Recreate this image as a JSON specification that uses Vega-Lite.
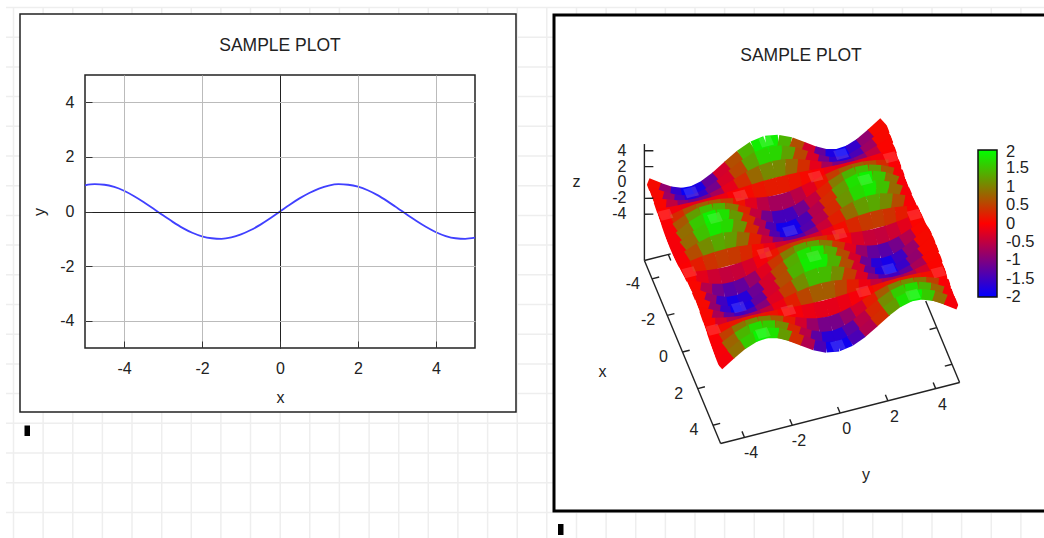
{
"$schema":"https://vega.github.io/schema/vega-lite/v6.json",
"width":390,"height":273,
"autosize":{"type":"none"},
"padding":{"left":85,"top":75,"right":569,"bottom":190},
"background":"white",
"config":{"view":{"stroke":null},"axis":{"labelFont":"Liberation Sans","titleFont":"Liberation Sans"}},
"datasets":{"s":[
{"x":-4.75,"y":-5,"z":0.57},{"x":-4.75,"y":-4.5,"z":-0.42},{"x":-4.75,"y":-4,"z":-1.31},{"x":-4.75,"y":-3.5,"z":-1.87},{"x":-4.75,"y":-3,"z":-1.98},{"x":-4.75,"y":-2.5,"z":-1.6},{"x":-4.75,"y":-2,"z":-0.83},{"x":-4.75,"y":-1.5,"z":0.14},{"x":-4.75,"y":-1,"z":1.08},{"x":-4.75,"y":-0.5,"z":1.75},{"x":-4.75,"y":0,"z":2},{"x":-4.75,"y":0.5,"z":1.75},{"x":-4.75,"y":1,"z":1.08},{"x":-4.75,"y":1.5,"z":0.14},{"x":-4.75,"y":2,"z":-0.83},{"x":-4.75,"y":2.5,"z":-1.6},{"x":-4.75,"y":3,"z":-1.98},{"x":-4.75,"y":3.5,"z":-1.87},{"x":-4.75,"y":4,"z":-1.31},{"x":-4.75,"y":4.5,"z":-0.42},{"x":-4.75,"y":5,"z":0.57},
{"x":-4.25,"y":-5,"z":0.51},{"x":-4.25,"y":-4.5,"z":-0.38},{"x":-4.25,"y":-4,"z":-1.17},{"x":-4.25,"y":-3.5,"z":-1.68},{"x":-4.25,"y":-3,"z":-1.77},{"x":-4.25,"y":-2.5,"z":-1.43},{"x":-4.25,"y":-2,"z":-0.74},{"x":-4.25,"y":-1.5,"z":0.13},{"x":-4.25,"y":-1,"z":0.97},{"x":-4.25,"y":-0.5,"z":1.57},{"x":-4.25,"y":0,"z":1.79},{"x":-4.25,"y":0.5,"z":1.57},{"x":-4.25,"y":1,"z":0.97},{"x":-4.25,"y":1.5,"z":0.13},{"x":-4.25,"y":2,"z":-0.74},{"x":-4.25,"y":2.5,"z":-1.43},{"x":-4.25,"y":3,"z":-1.77},{"x":-4.25,"y":3.5,"z":-1.68},{"x":-4.25,"y":4,"z":-1.17},{"x":-4.25,"y":4.5,"z":-0.38},{"x":-4.25,"y":5,"z":0.51},
{"x":-3.75,"y":-5,"z":0.32},{"x":-3.75,"y":-4.5,"z":-0.24},{"x":-3.75,"y":-4,"z":-0.75},{"x":-3.75,"y":-3.5,"z":-1.07},{"x":-3.75,"y":-3,"z":-1.13},{"x":-3.75,"y":-2.5,"z":-0.92},{"x":-3.75,"y":-2,"z":-0.48},{"x":-3.75,"y":-1.5,"z":0.08},{"x":-3.75,"y":-1,"z":0.62},{"x":-3.75,"y":-0.5,"z":1},{"x":-3.75,"y":0,"z":1.14},{"x":-3.75,"y":0.5,"z":1},{"x":-3.75,"y":1,"z":0.62},{"x":-3.75,"y":1.5,"z":0.08},{"x":-3.75,"y":2,"z":-0.48},{"x":-3.75,"y":2.5,"z":-0.92},{"x":-3.75,"y":3,"z":-1.13},{"x":-3.75,"y":3.5,"z":-1.07},{"x":-3.75,"y":4,"z":-0.75},{"x":-3.75,"y":4.5,"z":-0.24},{"x":-3.75,"y":5,"z":0.32},
{"x":-3.25,"y":-5,"z":0.06},{"x":-3.25,"y":-4.5,"z":-0.05},{"x":-3.25,"y":-4,"z":-0.14},{"x":-3.25,"y":-3.5,"z":-0.2},{"x":-3.25,"y":-3,"z":-0.21},{"x":-3.25,"y":-2.5,"z":-0.17},{"x":-3.25,"y":-2,"z":-0.09},{"x":-3.25,"y":-1.5,"z":0.02},{"x":-3.25,"y":-1,"z":0.12},{"x":-3.25,"y":-0.5,"z":0.19},{"x":-3.25,"y":0,"z":0.22},{"x":-3.25,"y":0.5,"z":0.19},{"x":-3.25,"y":1,"z":0.12},{"x":-3.25,"y":1.5,"z":0.02},{"x":-3.25,"y":2,"z":-0.09},{"x":-3.25,"y":2.5,"z":-0.17},{"x":-3.25,"y":3,"z":-0.21},{"x":-3.25,"y":3.5,"z":-0.2},{"x":-3.25,"y":4,"z":-0.14},{"x":-3.25,"y":4.5,"z":-0.05},{"x":-3.25,"y":5,"z":0.06},
{"x":-2.75,"y":-5,"z":-0.22},{"x":-2.75,"y":-4.5,"z":0.16},{"x":-2.75,"y":-4,"z":0.5},{"x":-2.75,"y":-3.5,"z":0.72},{"x":-2.75,"y":-3,"z":0.76},{"x":-2.75,"y":-2.5,"z":0.61},{"x":-2.75,"y":-2,"z":0.32},{"x":-2.75,"y":-1.5,"z":-0.05},{"x":-2.75,"y":-1,"z":-0.41},{"x":-2.75,"y":-0.5,"z":-0.67},{"x":-2.75,"y":0,"z":-0.76},{"x":-2.75,"y":0.5,"z":-0.67},{"x":-2.75,"y":1,"z":-0.41},{"x":-2.75,"y":1.5,"z":-0.05},{"x":-2.75,"y":2,"z":0.32},{"x":-2.75,"y":2.5,"z":0.61},{"x":-2.75,"y":3,"z":0.76},{"x":-2.75,"y":3.5,"z":0.72},{"x":-2.75,"y":4,"z":0.5},{"x":-2.75,"y":4.5,"z":0.16},{"x":-2.75,"y":5,"z":-0.22},
{"x":-2.25,"y":-5,"z":-0.44},{"x":-2.25,"y":-4.5,"z":0.33},{"x":-2.25,"y":-4,"z":1.02},{"x":-2.25,"y":-3.5,"z":1.46},{"x":-2.25,"y":-3,"z":1.54},{"x":-2.25,"y":-2.5,"z":1.25},{"x":-2.25,"y":-2,"z":0.65},{"x":-2.25,"y":-1.5,"z":-0.11},{"x":-2.25,"y":-1,"z":-0.84},{"x":-2.25,"y":-0.5,"z":-1.37},{"x":-2.25,"y":0,"z":-1.56},{"x":-2.25,"y":0.5,"z":-1.37},{"x":-2.25,"y":1,"z":-0.84},{"x":-2.25,"y":1.5,"z":-0.11},{"x":-2.25,"y":2,"z":0.65},{"x":-2.25,"y":2.5,"z":1.25},{"x":-2.25,"y":3,"z":1.54},{"x":-2.25,"y":3.5,"z":1.46},{"x":-2.25,"y":4,"z":1.02},{"x":-2.25,"y":4.5,"z":0.33},{"x":-2.25,"y":5,"z":-0.44},
{"x":-1.75,"y":-5,"z":-0.56},{"x":-1.75,"y":-4.5,"z":0.42},{"x":-1.75,"y":-4,"z":1.29},{"x":-1.75,"y":-3.5,"z":1.84},{"x":-1.75,"y":-3,"z":1.95},{"x":-1.75,"y":-2.5,"z":1.58},{"x":-1.75,"y":-2,"z":0.82},{"x":-1.75,"y":-1.5,"z":-0.14},{"x":-1.75,"y":-1,"z":-1.06},{"x":-1.75,"y":-0.5,"z":-1.73},{"x":-1.75,"y":0,"z":-1.97},{"x":-1.75,"y":0.5,"z":-1.73},{"x":-1.75,"y":1,"z":-1.06},{"x":-1.75,"y":1.5,"z":-0.14},{"x":-1.75,"y":2,"z":0.82},{"x":-1.75,"y":2.5,"z":1.58},{"x":-1.75,"y":3,"z":1.95},{"x":-1.75,"y":3.5,"z":1.84},{"x":-1.75,"y":4,"z":1.29},{"x":-1.75,"y":4.5,"z":0.42},{"x":-1.75,"y":5,"z":-0.56},
{"x":-1.25,"y":-5,"z":-0.54},{"x":-1.25,"y":-4.5,"z":0.4},{"x":-1.25,"y":-4,"z":1.24},{"x":-1.25,"y":-3.5,"z":1.78},{"x":-1.25,"y":-3,"z":1.88},{"x":-1.25,"y":-2.5,"z":1.52},{"x":-1.25,"y":-2,"z":0.79},{"x":-1.25,"y":-1.5,"z":-0.13},{"x":-1.25,"y":-1,"z":-1.02},{"x":-1.25,"y":-0.5,"z":-1.67},{"x":-1.25,"y":0,"z":-1.9},{"x":-1.25,"y":0.5,"z":-1.67},{"x":-1.25,"y":1,"z":-1.02},{"x":-1.25,"y":1.5,"z":-0.13},{"x":-1.25,"y":2,"z":0.79},{"x":-1.25,"y":2.5,"z":1.52},{"x":-1.25,"y":3,"z":1.88},{"x":-1.25,"y":3.5,"z":1.78},{"x":-1.25,"y":4,"z":1.24},{"x":-1.25,"y":4.5,"z":0.4},{"x":-1.25,"y":5,"z":-0.54},
{"x":-0.75,"y":-5,"z":-0.39},{"x":-0.75,"y":-4.5,"z":0.29},{"x":-0.75,"y":-4,"z":0.89},{"x":-0.75,"y":-3.5,"z":1.28},{"x":-0.75,"y":-3,"z":1.35},{"x":-0.75,"y":-2.5,"z":1.09},{"x":-0.75,"y":-2,"z":0.57},{"x":-0.75,"y":-1.5,"z":-0.1},{"x":-0.75,"y":-1,"z":-0.74},{"x":-0.75,"y":-0.5,"z":-1.2},{"x":-0.75,"y":0,"z":-1.36},{"x":-0.75,"y":0.5,"z":-1.2},{"x":-0.75,"y":1,"z":-0.74},{"x":-0.75,"y":1.5,"z":-0.1},{"x":-0.75,"y":2,"z":0.57},{"x":-0.75,"y":2.5,"z":1.09},{"x":-0.75,"y":3,"z":1.35},{"x":-0.75,"y":3.5,"z":1.28},{"x":-0.75,"y":4,"z":0.89},{"x":-0.75,"y":4.5,"z":0.29},{"x":-0.75,"y":5,"z":-0.39},
{"x":-0.25,"y":-5,"z":-0.14},{"x":-0.25,"y":-4.5,"z":0.1},{"x":-0.25,"y":-4,"z":0.32},{"x":-0.25,"y":-3.5,"z":0.46},{"x":-0.25,"y":-3,"z":0.49},{"x":-0.25,"y":-2.5,"z":0.4},{"x":-0.25,"y":-2,"z":0.21},{"x":-0.25,"y":-1.5,"z":-0.04},{"x":-0.25,"y":-1,"z":-0.27},{"x":-0.25,"y":-0.5,"z":-0.43},{"x":-0.25,"y":0,"z":-0.49},{"x":-0.25,"y":0.5,"z":-0.43},{"x":-0.25,"y":1,"z":-0.27},{"x":-0.25,"y":1.5,"z":-0.04},{"x":-0.25,"y":2,"z":0.21},{"x":-0.25,"y":2.5,"z":0.4},{"x":-0.25,"y":3,"z":0.49},{"x":-0.25,"y":3.5,"z":0.46},{"x":-0.25,"y":4,"z":0.32},{"x":-0.25,"y":4.5,"z":0.1},{"x":-0.25,"y":5,"z":-0.14},
{"x":0.25,"y":-5,"z":0.14},{"x":0.25,"y":-4.5,"z":-0.1},{"x":0.25,"y":-4,"z":-0.32},{"x":0.25,"y":-3.5,"z":-0.46},{"x":0.25,"y":-3,"z":-0.49},{"x":0.25,"y":-2.5,"z":-0.4},{"x":0.25,"y":-2,"z":-0.21},{"x":0.25,"y":-1.5,"z":0.04},{"x":0.25,"y":-1,"z":0.27},{"x":0.25,"y":-0.5,"z":0.43},{"x":0.25,"y":0,"z":0.49},{"x":0.25,"y":0.5,"z":0.43},{"x":0.25,"y":1,"z":0.27},{"x":0.25,"y":1.5,"z":0.04},{"x":0.25,"y":2,"z":-0.21},{"x":0.25,"y":2.5,"z":-0.4},{"x":0.25,"y":3,"z":-0.49},{"x":0.25,"y":3.5,"z":-0.46},{"x":0.25,"y":4,"z":-0.32},{"x":0.25,"y":4.5,"z":-0.1},{"x":0.25,"y":5,"z":0.14},
{"x":0.75,"y":-5,"z":0.39},{"x":0.75,"y":-4.5,"z":-0.29},{"x":0.75,"y":-4,"z":-0.89},{"x":0.75,"y":-3.5,"z":-1.28},{"x":0.75,"y":-3,"z":-1.35},{"x":0.75,"y":-2.5,"z":-1.09},{"x":0.75,"y":-2,"z":-0.57},{"x":0.75,"y":-1.5,"z":0.1},{"x":0.75,"y":-1,"z":0.74},{"x":0.75,"y":-0.5,"z":1.2},{"x":0.75,"y":0,"z":1.36},{"x":0.75,"y":0.5,"z":1.2},{"x":0.75,"y":1,"z":0.74},{"x":0.75,"y":1.5,"z":0.1},{"x":0.75,"y":2,"z":-0.57},{"x":0.75,"y":2.5,"z":-1.09},{"x":0.75,"y":3,"z":-1.35},{"x":0.75,"y":3.5,"z":-1.28},{"x":0.75,"y":4,"z":-0.89},{"x":0.75,"y":4.5,"z":-0.29},{"x":0.75,"y":5,"z":0.39},
{"x":1.25,"y":-5,"z":0.54},{"x":1.25,"y":-4.5,"z":-0.4},{"x":1.25,"y":-4,"z":-1.24},{"x":1.25,"y":-3.5,"z":-1.78},{"x":1.25,"y":-3,"z":-1.88},{"x":1.25,"y":-2.5,"z":-1.52},{"x":1.25,"y":-2,"z":-0.79},{"x":1.25,"y":-1.5,"z":0.13},{"x":1.25,"y":-1,"z":1.02},{"x":1.25,"y":-0.5,"z":1.67},{"x":1.25,"y":0,"z":1.9},{"x":1.25,"y":0.5,"z":1.67},{"x":1.25,"y":1,"z":1.02},{"x":1.25,"y":1.5,"z":0.13},{"x":1.25,"y":2,"z":-0.79},{"x":1.25,"y":2.5,"z":-1.52},{"x":1.25,"y":3,"z":-1.88},{"x":1.25,"y":3.5,"z":-1.78},{"x":1.25,"y":4,"z":-1.24},{"x":1.25,"y":4.5,"z":-0.4},{"x":1.25,"y":5,"z":0.54},
{"x":1.75,"y":-5,"z":0.56},{"x":1.75,"y":-4.5,"z":-0.42},{"x":1.75,"y":-4,"z":-1.29},{"x":1.75,"y":-3.5,"z":-1.84},{"x":1.75,"y":-3,"z":-1.95},{"x":1.75,"y":-2.5,"z":-1.58},{"x":1.75,"y":-2,"z":-0.82},{"x":1.75,"y":-1.5,"z":0.14},{"x":1.75,"y":-1,"z":1.06},{"x":1.75,"y":-0.5,"z":1.73},{"x":1.75,"y":0,"z":1.97},{"x":1.75,"y":0.5,"z":1.73},{"x":1.75,"y":1,"z":1.06},{"x":1.75,"y":1.5,"z":0.14},{"x":1.75,"y":2,"z":-0.82},{"x":1.75,"y":2.5,"z":-1.58},{"x":1.75,"y":3,"z":-1.95},{"x":1.75,"y":3.5,"z":-1.84},{"x":1.75,"y":4,"z":-1.29},{"x":1.75,"y":4.5,"z":-0.42},{"x":1.75,"y":5,"z":0.56},
{"x":2.25,"y":-5,"z":0.44},{"x":2.25,"y":-4.5,"z":-0.33},{"x":2.25,"y":-4,"z":-1.02},{"x":2.25,"y":-3.5,"z":-1.46},{"x":2.25,"y":-3,"z":-1.54},{"x":2.25,"y":-2.5,"z":-1.25},{"x":2.25,"y":-2,"z":-0.65},{"x":2.25,"y":-1.5,"z":0.11},{"x":2.25,"y":-1,"z":0.84},{"x":2.25,"y":-0.5,"z":1.37},{"x":2.25,"y":0,"z":1.56},{"x":2.25,"y":0.5,"z":1.37},{"x":2.25,"y":1,"z":0.84},{"x":2.25,"y":1.5,"z":0.11},{"x":2.25,"y":2,"z":-0.65},{"x":2.25,"y":2.5,"z":-1.25},{"x":2.25,"y":3,"z":-1.54},{"x":2.25,"y":3.5,"z":-1.46},{"x":2.25,"y":4,"z":-1.02},{"x":2.25,"y":4.5,"z":-0.33},{"x":2.25,"y":5,"z":0.44},
{"x":2.75,"y":-5,"z":0.22},{"x":2.75,"y":-4.5,"z":-0.16},{"x":2.75,"y":-4,"z":-0.5},{"x":2.75,"y":-3.5,"z":-0.72},{"x":2.75,"y":-3,"z":-0.76},{"x":2.75,"y":-2.5,"z":-0.61},{"x":2.75,"y":-2,"z":-0.32},{"x":2.75,"y":-1.5,"z":0.05},{"x":2.75,"y":-1,"z":0.41},{"x":2.75,"y":-0.5,"z":0.67},{"x":2.75,"y":0,"z":0.76},{"x":2.75,"y":0.5,"z":0.67},{"x":2.75,"y":1,"z":0.41},{"x":2.75,"y":1.5,"z":0.05},{"x":2.75,"y":2,"z":-0.32},{"x":2.75,"y":2.5,"z":-0.61},{"x":2.75,"y":3,"z":-0.76},{"x":2.75,"y":3.5,"z":-0.72},{"x":2.75,"y":4,"z":-0.5},{"x":2.75,"y":4.5,"z":-0.16},{"x":2.75,"y":5,"z":0.22},
{"x":3.25,"y":-5,"z":-0.06},{"x":3.25,"y":-4.5,"z":0.05},{"x":3.25,"y":-4,"z":0.14},{"x":3.25,"y":-3.5,"z":0.2},{"x":3.25,"y":-3,"z":0.21},{"x":3.25,"y":-2.5,"z":0.17},{"x":3.25,"y":-2,"z":0.09},{"x":3.25,"y":-1.5,"z":-0.02},{"x":3.25,"y":-1,"z":-0.12},{"x":3.25,"y":-0.5,"z":-0.19},{"x":3.25,"y":0,"z":-0.22},{"x":3.25,"y":0.5,"z":-0.19},{"x":3.25,"y":1,"z":-0.12},{"x":3.25,"y":1.5,"z":-0.02},{"x":3.25,"y":2,"z":0.09},{"x":3.25,"y":2.5,"z":0.17},{"x":3.25,"y":3,"z":0.21},{"x":3.25,"y":3.5,"z":0.2},{"x":3.25,"y":4,"z":0.14},{"x":3.25,"y":4.5,"z":0.05},{"x":3.25,"y":5,"z":-0.06},
{"x":3.75,"y":-5,"z":-0.32},{"x":3.75,"y":-4.5,"z":0.24},{"x":3.75,"y":-4,"z":0.75},{"x":3.75,"y":-3.5,"z":1.07},{"x":3.75,"y":-3,"z":1.13},{"x":3.75,"y":-2.5,"z":0.92},{"x":3.75,"y":-2,"z":0.48},{"x":3.75,"y":-1.5,"z":-0.08},{"x":3.75,"y":-1,"z":-0.62},{"x":3.75,"y":-0.5,"z":-1},{"x":3.75,"y":0,"z":-1.14},{"x":3.75,"y":0.5,"z":-1},{"x":3.75,"y":1,"z":-0.62},{"x":3.75,"y":1.5,"z":-0.08},{"x":3.75,"y":2,"z":0.48},{"x":3.75,"y":2.5,"z":0.92},{"x":3.75,"y":3,"z":1.13},{"x":3.75,"y":3.5,"z":1.07},{"x":3.75,"y":4,"z":0.75},{"x":3.75,"y":4.5,"z":0.24},{"x":3.75,"y":5,"z":-0.32},
{"x":4.25,"y":-5,"z":-0.51},{"x":4.25,"y":-4.5,"z":0.38},{"x":4.25,"y":-4,"z":1.17},{"x":4.25,"y":-3.5,"z":1.68},{"x":4.25,"y":-3,"z":1.77},{"x":4.25,"y":-2.5,"z":1.43},{"x":4.25,"y":-2,"z":0.74},{"x":4.25,"y":-1.5,"z":-0.13},{"x":4.25,"y":-1,"z":-0.97},{"x":4.25,"y":-0.5,"z":-1.57},{"x":4.25,"y":0,"z":-1.79},{"x":4.25,"y":0.5,"z":-1.57},{"x":4.25,"y":1,"z":-0.97},{"x":4.25,"y":1.5,"z":-0.13},{"x":4.25,"y":2,"z":0.74},{"x":4.25,"y":2.5,"z":1.43},{"x":4.25,"y":3,"z":1.77},{"x":4.25,"y":3.5,"z":1.68},{"x":4.25,"y":4,"z":1.17},{"x":4.25,"y":4.5,"z":0.38},{"x":4.25,"y":5,"z":-0.51},
{"x":4.75,"y":-5,"z":-0.57},{"x":4.75,"y":-4.5,"z":0.42},{"x":4.75,"y":-4,"z":1.31},{"x":4.75,"y":-3.5,"z":1.87},{"x":4.75,"y":-3,"z":1.98},{"x":4.75,"y":-2.5,"z":1.6},{"x":4.75,"y":-2,"z":0.83},{"x":4.75,"y":-1.5,"z":-0.14},{"x":4.75,"y":-1,"z":-1.08},{"x":4.75,"y":-0.5,"z":-1.75},{"x":4.75,"y":0,"z":-2},{"x":4.75,"y":0.5,"z":-1.75},{"x":4.75,"y":1,"z":-1.08},{"x":4.75,"y":1.5,"z":-0.14},{"x":4.75,"y":2,"z":0.83},{"x":4.75,"y":2.5,"z":1.6},{"x":4.75,"y":3,"z":1.98},{"x":4.75,"y":3.5,"z":1.87},{"x":4.75,"y":4,"z":1.31},{"x":4.75,"y":4.5,"z":0.42},{"x":4.75,"y":5,"z":-0.57}
]},
"resolve":{"scale":{"x":"independent","y":"independent"},"axis":{"x":"independent","y":"independent"}},
"layer":[
{"data":{"values":[{"a":13.5},{"a":43.1},{"a":72.8},{"a":102.4},{"a":132},{"a":161.7},{"a":191.3},{"a":220.9},{"a":250.5},{"a":280.2},{"a":309.8},{"a":339.4},{"a":369.1},{"a":398.7},{"a":428.3},{"a":457.9},{"a":487.6},{"a":517.2},{"a":546.8},{"a":576.5},{"a":606.1},{"a":635.7},{"a":665.4},{"a":695},{"a":724.6},{"a":754.3},{"a":783.9},{"a":813.5},{"a":843.1},{"a":872.8},{"a":902.4},{"a":932},{"a":961.6},{"a":991.3},{"a":1020.9}]},
"mark":{"type":"rule","color":"#eeeeee","strokeWidth":1.5},
"encoding":{"x":{"field":"a","type":"quantitative","axis":null,"scale":{"domain":[0,1044],"range":[-85,959]}},"y":{"datum":8,"type":"quantitative","axis":null,"scale":{"domain":[0,538],"range":[-75,463]}},"y2":{"datum":538}}},
{"data":{"values":[{"a":7.5},{"a":37.2},{"a":66.9},{"a":96.6},{"a":126.3},{"a":156},{"a":185.7},{"a":215.4},{"a":245.1},{"a":274.8},{"a":304.5},{"a":334.2},{"a":363.9},{"a":393.6},{"a":423.3},{"a":453},{"a":482.7},{"a":512.4}]},
"mark":{"type":"rule","color":"#eeeeee","strokeWidth":1.5},
"encoding":{"y":{"field":"a","type":"quantitative","axis":null,"scale":{"domain":[0,538],"range":[-75,463]}},"x":{"datum":6,"type":"quantitative","axis":null,"scale":{"domain":[0,1044],"range":[-85,959]}},"x2":{"datum":1044}}},
{"data":{"values":[{"l":20,"t":14,"r":516,"b":412},{"l":85,"t":75,"r":475,"b":348}]},
"mark":{"type":"rect","fill":"white","stroke":"#222","strokeWidth":1.5},
"encoding":{"x":{"field":"l","type":"quantitative","axis":null,"scale":{"domain":[0,1044],"range":[-85,959]}},"x2":{"field":"r"},"y":{"field":"t","type":"quantitative","axis":null,"scale":{"domain":[0,538],"range":[-75,463]}},"y2":{"field":"b"}}},
{"data":{"values":[{"l":554,"t":15,"r":1060,"b":511}]},
"mark":{"type":"rect","fill":"white","stroke":"#000","strokeWidth":3},
"encoding":{"x":{"field":"l","type":"quantitative","axis":null,"scale":{"domain":[0,1044],"range":[-85,959]}},"x2":{"field":"r"},"y":{"field":"t","type":"quantitative","axis":null,"scale":{"domain":[0,538],"range":[-75,463]}},"y2":{"field":"b"}}},
{"data":{"values":[{"l":24.5,"t":425.5,"r":30,"b":436},{"l":558,"t":524,"r":563.5,"b":535}]},
"mark":{"type":"rect","fill":"#000"},
"encoding":{"x":{"field":"l","type":"quantitative","axis":null,"scale":{"domain":[0,1044],"range":[-85,959]}},"x2":{"field":"r"},"y":{"field":"t","type":"quantitative","axis":null,"scale":{"domain":[0,538],"range":[-75,463]}},"y2":{"field":"b"}}},
{"data":{"values":[{"l":801,"t":56,"k":"SAMPLE PLOT"},{"l":280,"t":46,"k":"SAMPLE PLOT"}]},
"mark":{"type":"text","font":"Liberation Sans","fontSize":17.5,"color":"#222","align":"center","baseline":"middle"},
"encoding":{"x":{"field":"l","type":"quantitative","axis":null,"scale":{"domain":[0,1044],"range":[-85,959]}},"y":{"field":"t","type":"quantitative","axis":null,"scale":{"domain":[0,538],"range":[-75,463]}},"text":{"field":"k"}}},
{"data":{"values":[{"l":1006,"t":152,"k":"2"},{"l":1006,"t":297,"k":"-2"}]},
"mark":{"type":"text","font":"Liberation Sans","fontSize":16.5,"color":"#222","align":"left","baseline":"middle"},
"encoding":{"x":{"field":"l","type":"quantitative","axis":null,"scale":{"domain":[0,1044],"range":[-85,959]}},"y":{"field":"t","type":"quantitative","axis":null,"scale":{"domain":[0,538],"range":[-75,463]}},"text":{"field":"k"}}},
{"data":{"values":[{"x":-5,"y":0.96},{"x":-4.75,"y":1},{"x":-4.5,"y":0.98},{"x":-4.25,"y":0.9},{"x":-4,"y":0.76},{"x":-3.75,"y":0.57},{"x":-3.5,"y":0.35},{"x":-3.25,"y":0.11},{"x":-3,"y":-0.14},{"x":-2.75,"y":-0.38},{"x":-2.5,"y":-0.6},{"x":-2.25,"y":-0.78},{"x":-2,"y":-0.91},{"x":-1.75,"y":-0.98},{"x":-1.5,"y":-1},{"x":-1.25,"y":-0.95},{"x":-1,"y":-0.84},{"x":-0.75,"y":-0.68},{"x":-0.5,"y":-0.48},{"x":-0.25,"y":-0.25},{"x":0,"y":0},{"x":0.25,"y":0.25},{"x":0.5,"y":0.48},{"x":0.75,"y":0.68},{"x":1,"y":0.84},{"x":1.25,"y":0.95},{"x":1.5,"y":1},{"x":1.75,"y":0.98},{"x":2,"y":0.91},{"x":2.25,"y":0.78},{"x":2.5,"y":0.6},{"x":2.75,"y":0.38},{"x":3,"y":0.14},{"x":3.25,"y":-0.11},{"x":3.5,"y":-0.35},{"x":3.75,"y":-0.57},{"x":4,"y":-0.76},{"x":4.25,"y":-0.9},{"x":4.5,"y":-0.98},{"x":4.75,"y":-1},{"x":5,"y":-0.96}]},
"mark":{"type":"line","color":"#4040ff","strokeWidth":1.8,"interpolate":"monotone"},
"encoding":{
"x":{"field":"x","type":"quantitative","scale":{"domain":[-5,5],"nice":false,"zero":false},"axis":{"title":"x","values":[-4,-2,0,2,4],"labelExpr":"''+datum.value","zindex":1,"domain":false,"tickSize":-7,"tickColor":"#333","labelPadding":19,"labelFontSize":16,"labelColor":"#222","labelAngle":0,"titleFontSize":16,"titleFontWeight":"normal","titleColor":"#222","titlePadding":13,"grid":true,"gridColor":{"condition":{"test":"datum.value===0","value":"#222"},"value":"#bbbbbb"},"gridWidth":1}},
"y":{"field":"y","type":"quantitative","scale":{"domain":[-5,5],"nice":false,"zero":false},"axis":{"title":"y","values":[-4,-2,0,2,4],"labelExpr":"''+datum.value","zindex":1,"domain":false,"tickSize":-7,"tickColor":"#333","labelPadding":18,"labelFontSize":16,"labelColor":"#222","titleFontSize":16,"titleFontWeight":"normal","titleColor":"#222","titlePadding":12,"grid":true,"gridColor":{"condition":{"test":"datum.value===0","value":"#222"},"value":"#bbbbbb"},"gridWidth":1}}}},
{"data":{"values":[{"x":-4,"y":-5.8,"z":-9.84,"t":"-4"},{"x":-2,"y":-5.8,"z":-9.84,"t":"-2"},{"x":0,"y":-5.8,"z":-9.84,"t":"0"},{"x":2,"y":-5.8,"z":-9.84,"t":"2"},{"x":4,"y":-5.8,"z":-9.84,"t":"4"},{"x":5.87,"y":-4,"z":-9.84,"t":"-4"},{"x":5.87,"y":-2,"z":-9.84,"t":"-2"},{"x":5.87,"y":0,"z":-9.84,"t":"0"},{"x":5.87,"y":2,"z":-9.84,"t":"2"},{"x":5.87,"y":4,"z":-9.84,"t":"4"},{"x":0,"y":-8.35,"z":-9.84,"t":"x"},{"x":8.4,"y":0,"z":-9.84,"t":"y"},{"x":-5.857,"y":-7.57,"z":0,"t":"z"}]},
"transform":[{"calculate":"7.62*datum.x+23.9*datum.y","as":"sx"},{"calculate":"18.3*datum.x-6.1*datum.y-7.93*datum.z","as":"sy"}],
"mark":{"type":"text","font":"Liberation Sans","fontSize":16,"color":"#222","align":"center","baseline":"middle"},
"encoding":{"x":{"field":"sx","type":"quantitative","axis":null,"scale":{"domain":[-802,242],"range":[-85,959]}},"y":{"field":"sy","type":"quantitative","axis":null,"scale":{"domain":[-243.5,294.5],"range":[-75,463]}},"text":{"field":"t"}}},
{"data":{"values":[{"x":-5.227,"y":-5.68,"z":-4,"t":"-4"},{"x":-5.227,"y":-5.68,"z":-2,"t":"-2"},{"x":-5.227,"y":-5.68,"z":0,"t":"0"},{"x":-5.227,"y":-5.68,"z":2,"t":"2"},{"x":-5.227,"y":-5.68,"z":4,"t":"4"}]},
"transform":[{"calculate":"7.62*datum.x+23.9*datum.y","as":"sx"},{"calculate":"18.3*datum.x-6.1*datum.y-7.93*datum.z","as":"sy"}],
"mark":{"type":"text","font":"Liberation Sans","fontSize":16,"color":"#222","align":"right","baseline":"middle"},
"encoding":{"x":{"field":"sx","type":"quantitative","axis":null,"scale":{"domain":[-802,242],"range":[-85,959]}},"y":{"field":"sy","type":"quantitative","axis":null,"scale":{"domain":[-243.5,294.5],"range":[-75,463]}},"text":{"field":"t"}}},
{"data":{"name":"s"},
"transform":[{"window":[{"op":"lead","field":"z","as":"z2"}],"groupby":["x"],"sort":[{"field":"y","order":"ascending"}]},{"filter":"datum.z2!=null&&datum.x<4.7"},{"calculate":"(datum.z+datum.z2)/2","as":"zm"},{"calculate":"7.62*datum.x+23.9*datum.y","as":"sx"},{"calculate":"18.3*datum.x-6.1*datum.y-7.93*datum.z","as":"sy"},{"calculate":"7.62*datum.x+23.9*(datum.y+0.53)","as":"sx2"},{"calculate":"18.3*datum.x-6.1*(datum.y+0.53)-7.93*(datum.z+(datum.z2-datum.z)*1.06)","as":"sy2"}],
"mark":{"type":"rule","strokeWidth":17,"strokeCap":"butt","opacity":1},
"encoding":{"x":{"field":"sx","type":"quantitative","axis":null,"scale":{"domain":[-802,242],"range":[-85,959]}},"y":{"field":"sy","type":"quantitative","axis":null,"scale":{"domain":[-243.5,294.5],"range":[-71.4,466.6]}},"x2":{"field":"sx2"},"y2":{"field":"sy2"},"order":{"field":"x"},
"color":{"field":"zm","type":"quantitative","scale":{"domain":[-2,-1,0,1,2],"range":["#0000ff","#800080","#ff0000","#808000","#00ff00"],"interpolate":"rgb"},
"legend":{"type":"gradient","orient":"none","legendX":893,"legendY":75,"title":null,"values":[1.5,1,0.5,0,-0.5,-1,-1.5],"labelExpr":"''+datum.value","gradientLength":147,"gradientThickness":19,"gradientStrokeColor":"#111","gradientStrokeWidth":1.5,"labelOffset":9,"labelFont":"Liberation Sans","labelFontSize":16.5,"labelColor":"#222","labelOverlap":false}}}},
{"data":{"name":"s"},
"transform":[{"window":[{"op":"lead","field":"z","as":"z2"}],"groupby":["x"],"sort":[{"field":"y","order":"ascending"}]},{"filter":"datum.z2!=null&&datum.x>4.7"},{"calculate":"(datum.z+datum.z2)/2","as":"zm"},{"calculate":"7.62*datum.x+23.9*datum.y","as":"sx"},{"calculate":"18.3*datum.x-6.1*datum.y-7.93*datum.z","as":"sy"},{"calculate":"7.62*datum.x+23.9*(datum.y+0.53)","as":"sx2"},{"calculate":"18.3*datum.x-6.1*(datum.y+0.53)-7.93*(datum.z+(datum.z2-datum.z)*1.06)","as":"sy2"}],
"mark":{"type":"rule","strokeWidth":10.5,"strokeCap":"butt","opacity":1},
"encoding":{"x":{"field":"sx","type":"quantitative","axis":null,"scale":{"domain":[-802,242],"range":[-85,959]}},"y":{"field":"sy","type":"quantitative","axis":null,"scale":{"domain":[-243.5,294.5],"range":[-75,463]}},"x2":{"field":"sx2"},"y2":{"field":"sy2"},
"color":{"field":"zm","type":"quantitative"}}},
{"data":{"values":[{"x":-4.71,"y":0,"z":2},{"x":-4.71,"y":-3.14,"z":-2},{"x":-4.71,"y":3.14,"z":-2},{"x":-1.57,"y":0,"z":-2},{"x":-1.57,"y":-3.14,"z":2},{"x":-1.57,"y":3.14,"z":2},{"x":1.57,"y":0,"z":2},{"x":1.57,"y":-3.14,"z":-2},{"x":1.57,"y":3.14,"z":-2},{"x":4.71,"y":0,"z":-2},{"x":4.71,"y":-3.14,"z":2},{"x":4.71,"y":3.14,"z":2},
{"x":-3.14,"y":-4.71,"z":0},{"x":-3.14,"y":-1.57,"z":0},{"x":-3.14,"y":1.57,"z":0},{"x":-3.14,"y":4.71,"z":0},{"x":0,"y":-4.71,"z":0},{"x":0,"y":-1.57,"z":0},{"x":0,"y":1.57,"z":0},{"x":0,"y":4.71,"z":0},{"x":3.14,"y":-4.71,"z":0},{"x":3.14,"y":-1.57,"z":0},{"x":3.14,"y":1.57,"z":0},{"x":3.14,"y":4.71,"z":0}]},
"transform":[{"calculate":"7.62*datum.x+23.9*datum.y","as":"sx"},{"calculate":"18.3*datum.x-6.1*datum.y-7.93*datum.z","as":"sy"}],
"mark":{"type":"point","filled":true,"color":"white","opacity":0.14,"size":4,"shape":"M-7.9,-3L4,-6L7.9,3L-4,6Z"},
"encoding":{"x":{"field":"sx","type":"quantitative","axis":null,"scale":{"domain":[-802,242],"range":[-85,959]}},"y":{"field":"sy","type":"quantitative","axis":null,"scale":{"domain":[-243.5,294.5],"range":[-75,463]}}}},
{"data":{"values":[{"x":-5,"y":-5.27,"z":0.54,"u":-4,"v":-5.27,"w":0.43},{"x":-4,"y":-5.27,"z":0.43,"u":-3,"v":-5.27,"w":-0.08},{"x":-3,"y":-5.27,"z":-0.08,"u":-2,"v":-5.27,"w":-0.52},{"x":-2,"y":-5.27,"z":-0.52,"u":-1,"v":-5.27,"w":-0.48},{"x":-1,"y":-5.27,"z":-0.48,"u":0,"v":-5.27,"w":0},{"x":0,"y":-5.27,"z":0,"u":1,"v":-5.27,"w":0.48},{"x":1,"y":-5.27,"z":0.48,"u":2,"v":-5.27,"w":0.52},{"x":2,"y":-5.27,"z":0.52,"u":3,"v":-5.27,"w":0.08},{"x":3,"y":-5.27,"z":0.08,"u":4,"v":-5.27,"w":-0.43},{"x":4,"y":-5.27,"z":-0.43,"u":5.2,"v":-5.27,"w":-0.6},
{"x":-5.2,"y":5.27,"z":0.6,"u":-4,"v":5.27,"w":0.43},{"x":-4,"y":5.27,"z":0.43,"u":-3,"v":5.27,"w":-0.08},{"x":-3,"y":5.27,"z":-0.08,"u":-2,"v":5.27,"w":-0.52},{"x":-2,"y":5.27,"z":-0.52,"u":-1,"v":5.27,"w":-0.48},{"x":-1,"y":5.27,"z":-0.48,"u":0,"v":5.27,"w":0},{"x":0,"y":5.27,"z":0,"u":1,"v":5.27,"w":0.48},{"x":1,"y":5.27,"z":0.48,"u":2,"v":5.27,"w":0.52},{"x":2,"y":5.27,"z":0.52,"u":3,"v":5.27,"w":0.08},{"x":3,"y":5.27,"z":0.08,"u":4,"v":5.27,"w":-0.43},{"x":4,"y":5.27,"z":-0.43,"u":5,"v":5.27,"w":-0.54}]},
"transform":[{"calculate":"7.62*datum.x+23.9*datum.y","as":"sx"},{"calculate":"18.3*datum.x-6.1*datum.y-7.93*datum.z","as":"sy"},{"calculate":"7.62*datum.u+23.9*datum.v","as":"sx2"},{"calculate":"18.3*datum.u-6.1*datum.v-7.93*datum.w","as":"sy2"}],
"mark":{"type":"rule","color":"white","strokeWidth":13,"strokeCap":"square"},
"encoding":{"x":{"field":"sx","type":"quantitative","axis":null,"scale":{"domain":[-802,242],"range":[-85,959]}},"y":{"field":"sy","type":"quantitative","axis":null,"scale":{"domain":[-243.5,294.5],"range":[-75,463]}},"x2":{"field":"sx2"},"y2":{"field":"sy2"}}},
{"data":{"values":[{"x":-5,"y":-5,"z":-9.84,"u":5,"v":-5,"w":-9.84},{"x":5,"y":-5,"z":-9.84,"u":5,"v":5,"w":-9.84},{"x":-5,"y":-5,"z":-9.84,"u":-5,"v":-3.9,"w":-9.84},{"x":5,"y":5,"z":-9.84,"u":0.55,"v":5,"w":-9.84},{"x":-5,"y":-5,"z":-9.84,"u":-5,"v":-5,"w":4.85},
{"x":-4,"y":-5,"z":-9.84,"u":-4,"v":-4.7,"w":-9.84},{"x":-2,"y":-5,"z":-9.84,"u":-2,"v":-4.7,"w":-9.84},{"x":0,"y":-5,"z":-9.84,"u":0,"v":-4.7,"w":-9.84},{"x":2,"y":-5,"z":-9.84,"u":2,"v":-4.7,"w":-9.84},{"x":4,"y":-5,"z":-9.84,"u":4,"v":-4.7,"w":-9.84},
{"x":2,"y":5,"z":-9.84,"u":2,"v":4.7,"w":-9.84},{"x":4,"y":5,"z":-9.84,"u":4,"v":4.7,"w":-9.84},
{"x":5,"y":-4,"z":-9.84,"u":4.67,"v":-4,"w":-9.84},{"x":5,"y":-2,"z":-9.84,"u":4.67,"v":-2,"w":-9.84},{"x":5,"y":0,"z":-9.84,"u":4.67,"v":0,"w":-9.84},{"x":5,"y":2,"z":-9.84,"u":4.67,"v":2,"w":-9.84},{"x":5,"y":4,"z":-9.84,"u":4.67,"v":4,"w":-9.84},
{"x":-5,"y":-4,"z":-9.84,"u":-4.67,"v":-4,"w":-9.84},
{"x":-5,"y":-5,"z":-4,"u":-4.89,"v":-4.66,"w":-4},{"x":-5,"y":-5,"z":-2,"u":-4.89,"v":-4.66,"w":-2},{"x":-5,"y":-5,"z":2,"u":-4.89,"v":-4.66,"w":2},{"x":-5,"y":-5,"z":4,"u":-4.89,"v":-4.66,"w":4}]},
"transform":[{"calculate":"7.62*datum.x+23.9*datum.y","as":"sx"},{"calculate":"18.3*datum.x-6.1*datum.y-7.93*datum.z","as":"sy"},{"calculate":"7.62*datum.u+23.9*datum.v","as":"sx2"},{"calculate":"18.3*datum.u-6.1*datum.v-7.93*datum.w","as":"sy2"}],
"mark":{"type":"rule","color":"#222","strokeWidth":1.4},
"encoding":{"x":{"field":"sx","type":"quantitative","axis":null,"scale":{"domain":[-802,242],"range":[-85,959]}},"y":{"field":"sy","type":"quantitative","axis":null,"scale":{"domain":[-243.5,294.5],"range":[-75,463]}},"x2":{"field":"sx2"},"y2":{"field":"sy2"}}},
{"data":{"values":[{"t":168.4},{"t":186.8},{"t":205.1},{"t":223.5},{"t":241.9},{"t":260.3},{"t":278.6}]},
"mark":{"type":"rule","color":"#111","opacity":0.35,"strokeWidth":1},
"encoding":{"y":{"field":"t","type":"quantitative","axis":null,"scale":{"domain":[0,538],"range":[-75,463]}},"x":{"datum":978,"type":"quantitative","axis":null,"scale":{"domain":[0,1044],"range":[-85,959]}},"x2":{"datum":997}}}
]
}
